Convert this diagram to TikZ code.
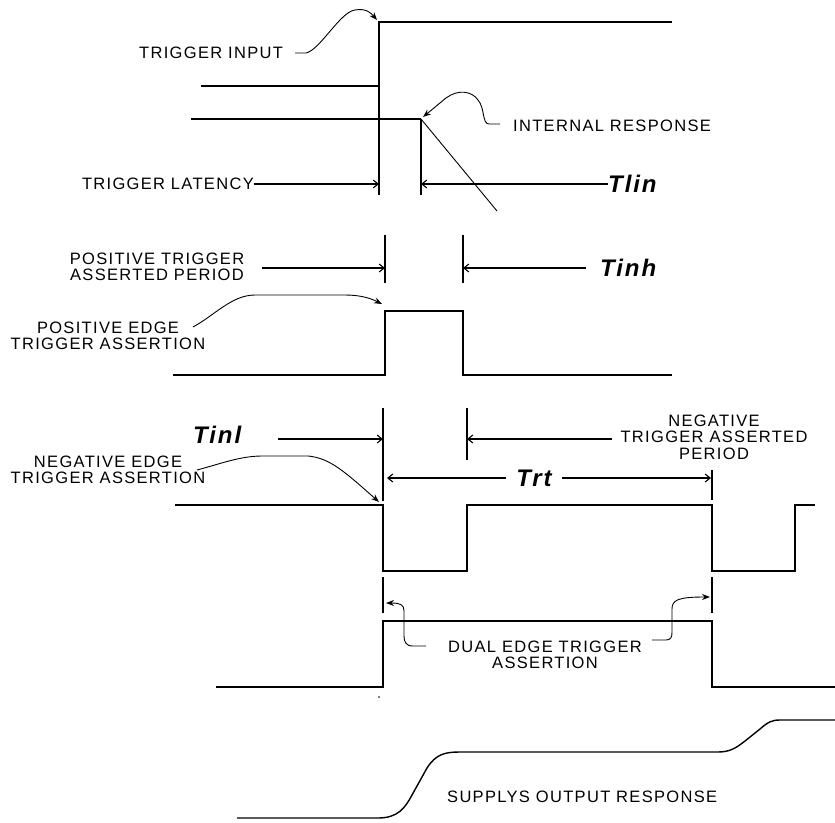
\documentclass[tikz,border=0pt]{standalone}
\usepackage{fontspec}
\setmainfont{Liberation Sans}
\newfontfamily\capsfont[LetterSpace=8]{Liberation Sans}
\newfontfamily\timefont[LetterSpace=8]{Liberation Sans}
\usetikzlibrary{arrows.meta}

\tikzset{
  lbl/.style={font=\capsfont\fontsize{16.5}{16.5}\selectfont, inner sep=0pt, align=center},
  tlbl/.style={font=\timefont\bfseries\itshape\fontsize{24}{26}\selectfont, inner sep=0pt},
  wave/.style={line width=1.4pt},
  ext/.style={line width=1.3pt},
  dim/.style={->, line width=1.1pt},
  callout/.style={-{Stealth[length=8pt,width=6pt]}, line width=0.9pt},
}

\begin{document}
\begin{tikzpicture}[x=1pt, y=-1pt, >={Straight Barb[length=5pt,width=8pt]}]
  \useasboundingbox (0,0) rectangle (835,822);

  % trigger input
  \draw[wave] (201,86) -- (379,86) -- (379,22) -- (672,22);
  \draw[ext] (379,86) -- (379,195);
  \coordinate (inedge) at (377,20);
  \node[lbl, anchor=west] (trigin) at (139,53) {TRIGGER INPUT};
  \draw[callout] (295,53) -- (306,53) .. controls (320,50) and (340,12) .. (355,10) .. controls (366,8) and (371,13) .. (inedge);

  % internal response
  \draw[wave] (191,119) -- (421,119);
  \draw[ext] (421,119) -- (421,195);
  \draw[line width=0.9pt] (421,119) -- (497,211);
  \coordinate (irpeak) at (423,117);
  \node[lbl, anchor=west] (intresp) at (513,126) {INTERNAL RESPONSE};
  \draw[callout] (500,124) -- (489,124) .. controls (482,124) and (485,108) .. (478,100) .. controls (472,91) and (458,89) .. (446,98) -- (irpeak);

  % latency
  \node[lbl, anchor=east] (latency) at (254,184) {TRIGGER LATENCY};
  \node[tlbl, anchor=west] (tlin) at (608,184) {Tlin};
  \coordinate (lat1) at (379,184);
  \coordinate (lat2) at (421,184);
  \draw[dim] (latency) -- (lat1);
  \draw[dim] (tlin) -- (lat2);

  % positive trigger asserted period
  \draw[ext] (385,235) -- (385,283);
  \draw[ext] (463,235) -- (463,283);
  \node[lbl] (posper) at (157,267) {POSITIVE TRIGGER\\ASSERTED PERIOD};
  \node[tlbl, anchor=west] (tinh) at (600,268) {Tinh};
  \coordinate (pp0) at (262,268);
  \coordinate (pp1) at (385,268);
  \coordinate (pp2) at (463,268);
  \coordinate (pp3) at (586,268);
  \draw[dim] (pp0) -- (pp1);
  \draw[dim] (pp3) -- (pp2);

  % positive edge
  \draw[wave] (173,375) -- (385,375) -- (385,311) -- (463,311) -- (463,375) -- (672,375);
  \node[lbl] (posedge) at (108,336) {POSITIVE EDGE\\TRIGGER ASSERTION};
  \coordinate (pe0) at (193,327);
  \coordinate (pe) at (382,304);
  \draw[callout] (pe0) .. controls (215,315) and (232,295) .. (255,295) -- (345,295) .. controls (360,295) and (370,298) .. (pe);

  % negative trigger asserted period
  \draw[ext] (383,408) -- (383,501);
  \draw[ext] (467,408) -- (467,460);
  \node[tlbl, anchor=west] (tinl) at (193,435) {Tinl};
  \node[lbl] (negper) at (714,437) {NEGATIVE\\TRIGGER ASSERTED\\PERIOD};
  \coordinate (nl0) at (278,439);
  \coordinate (nl1) at (383,439);
  \coordinate (nl2) at (467,439);
  \coordinate (nl3) at (612,439);
  \draw[dim] (nl0) -- (nl1);
  \draw[dim] (nl3) -- (nl2);

  % Trt
  \draw[ext] (712,470) -- (712,500);
  \node[tlbl] (trt) at (534,478) {Trt};
  \coordinate (rt1) at (387,478);
  \coordinate (rt2) at (711,478);
  \draw[dim] ([xshift=-10pt]trt.west) -- (rt1);
  \draw[dim] ([xshift=10pt]trt.east) -- (rt2);

  % negative edge
  \draw[wave] (175,505) -- (383,505) -- (383,571) -- (467,571) -- (467,505) -- (712,505) -- (712,571) -- (795,571) -- (795,505) -- (815,505);
  \node[lbl] (negedge) at (108,470) {NEGATIVE EDGE\\TRIGGER ASSERTION};
  \coordinate (ne0) at (197,470);
  \coordinate (ne) at (379,502);
  \draw[callout] (ne0) .. controls (220,464) and (240,456) .. (262,456) -- (308,456) .. controls (330,458) and (345,472) .. (ne);

  % dual edge
  \draw[ext] (383,577) -- (383,613);
  \draw[ext] (712,577) -- (712,613);
  \draw[wave] (216,687) -- (383,687) -- (383,621) -- (712,621) -- (712,687) -- (835,687);
  \fill (379,697) circle (0.8);
  \node[lbl] (dual) at (545,655) {DUAL EDGE TRIGGER\\ASSERTION};
  \coordinate (dl0) at (426,646);
  \coordinate (dr0) at (652,640);
  \coordinate (de1) at (386,603);
  \coordinate (de2) at (710,597);
  \draw[callout] (dl0) -- (413,646) .. controls (406,646) and (404,642) .. (404,636) -- (404,611) .. controls (404,605) and (401,603) .. (de1);
  \draw[callout] (dr0) -- (666,640) .. controls (671,640) and (672,637) .. (672,632) -- (672,609) .. controls (672,600) and (678,597) .. (de2);

  % supply output
  \draw[wave] (237,818) -- (378,818) .. controls (398,818) and (405,808) .. (412,795) -- (427,768) .. controls (436,754) and (445,752) .. (460,752) -- (718,752) .. controls (730,752) and (736,748) .. (745,741) -- (760,729) .. controls (768,722) and (772,720) .. (780,720) -- (835,720);
  \node[lbl, anchor=west] (supply) at (447,797) {SUPPLYS OUTPUT RESPONSE};
\end{tikzpicture}
\end{document}
